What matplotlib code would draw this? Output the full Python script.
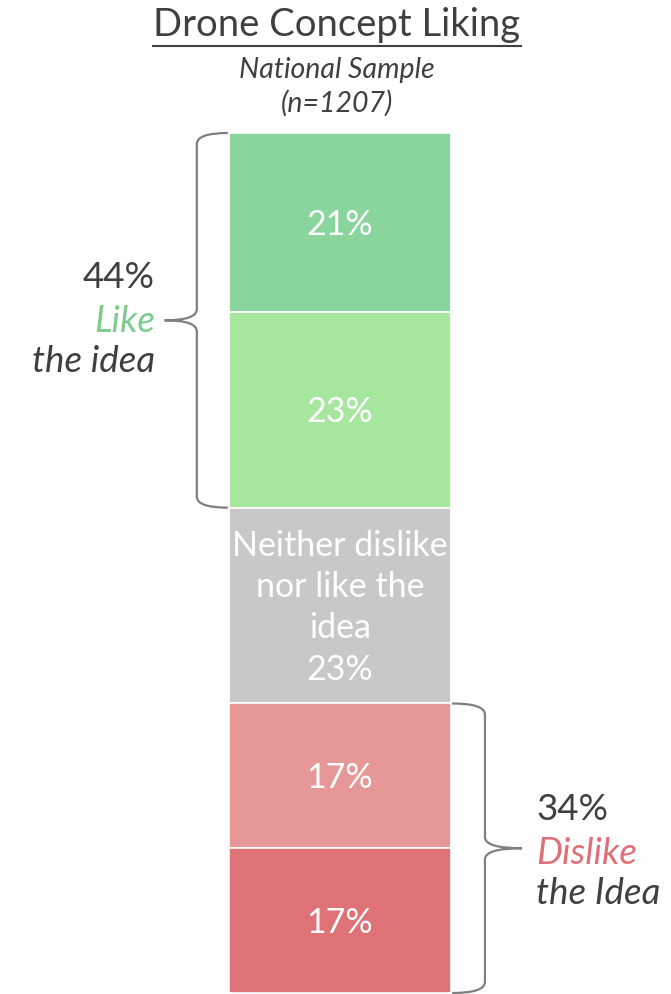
import matplotlib
matplotlib.use("Agg")
import matplotlib.pyplot as plt
from matplotlib.path import Path
from matplotlib.patches import PathPatch
import numpy as np

# ---- data ----
categories = ["Like a lot", "Like", "Neither dislike\nnor like the\nidea", "Dislike", "Dislike a lot"]
values = [21, 23, 23, 17, 17]
seg_labels = ["21%", "23%", "Neither dislike\nnor like the\nidea\n23%", "17%", "17%"]
colors = ["#8AD49D", "#A6E69E", "#C8C8C8", "#E69797", "#DF7276"]
like_total = "44%"
dislike_total = "34%"

W, H = 671, 994
fig = plt.figure(figsize=(W / 100, H / 100), dpi=100)
plt.rcParams['font.family'] = ['Lato', 'DejaVu Sans']

bar_left, bar_right = 229, 451
bar_top, bar_bot = 133, 993
ax = fig.add_axes([bar_left / W, 1 - bar_bot / H, (bar_right - bar_left) / W, (bar_bot - bar_top) / H])
total = sum(values)
bottoms = np.concatenate([[0], np.cumsum(values)[:-1]])
ax.bar([0.5] * len(values), values, bottom=bottoms, width=1.0, color=colors,
       edgecolor="white", linewidth=1.2)
ax.set_xlim(0, 1)
ax.set_ylim(total, 0)
ax.axis("off")

for b, v, lab in zip(bottoms, values, seg_labels):
    ax.text(0.5, b + v / 2 + 0.25, lab, ha="center", va="center", color="white",
            fontsize=24.5, linespacing=1.36, fontweight="normal",
            family=["Lato", "DejaVu Sans"])


def brace(ax, y0, y1, x_end, x_line, x_tip, r):
    ym = (y0 + y1) / 2
    verts = [
        (x_end, y0), (x_line, y0), (x_line, y0 + r),
        (x_line, ym - r), (x_line, ym), (x_tip, ym),
        (x_line, ym), (x_line, ym + r),
        (x_line, y1 - r), (x_line, y1), (x_end, y1),
    ]
    codes = [Path.MOVETO, Path.CURVE3, Path.CURVE3,
             Path.LINETO, Path.CURVE3, Path.CURVE3,
             Path.CURVE3, Path.CURVE3,
             Path.LINETO, Path.CURVE3, Path.CURVE3]
    p = PathPatch(Path(verts, codes), fill=False, edgecolor="#7F7F7F", lw=1.6, clip_on=False)
    ax.add_patch(p)


like_end = values[0] + values[1]
dis_start = sum(values[:3])
brace(ax, 0, like_end, -0.005, -0.145, -0.29, 1.3)
brace(ax, dis_start, total, 1.005, 1.153, 1.32, 1.3)

dark = "#404040"
fs = 26.5
# left annotation
fig.text(155 / W, 1 - 278 / H, like_total, ha="right", va="center", fontsize=fs, color=dark)
fig.text(155 / W, 1 - 321 / H, "Like", ha="right", va="center", fontsize=fs, color="#7DCB8F", style="italic")
fig.text(155 / W, 1 - 361 / H, "the idea", ha="right", va="center", fontsize=fs, color=dark, style="italic")
# right annotation
fig.text(536 / W, 1 - 810 / H, dislike_total, ha="left", va="center", fontsize=fs, color=dark)
fig.text(536 / W, 1 - 853 / H, "Dislike", ha="left", va="center", fontsize=fs, color="#E07078", style="italic")
fig.text(536 / W, 1 - 893 / H, "the Idea", ha="left", va="center", fontsize=fs, color=dark, style="italic")

# title
fig.text(337 / W, 1 - 25 / H, "Drone Concept Liking", ha="center", va="center", fontsize=27.5, color=dark)
fig.add_artist(plt.Line2D([153 / W, 521 / W], [1 - 46 / H, 1 - 46 / H], color=dark, lw=1.5))
fig.text(337 / W, 1 - 70 / H, "National Sample", ha="center", va="center", fontsize=20.5, color=dark, style="italic")
fig.text(337 / W, 1 - 103 / H, "(n=1207)", ha="center", va="center", fontsize=20.5, color=dark, style="italic")

fig.savefig("out.png", dpi=100, facecolor="white")
